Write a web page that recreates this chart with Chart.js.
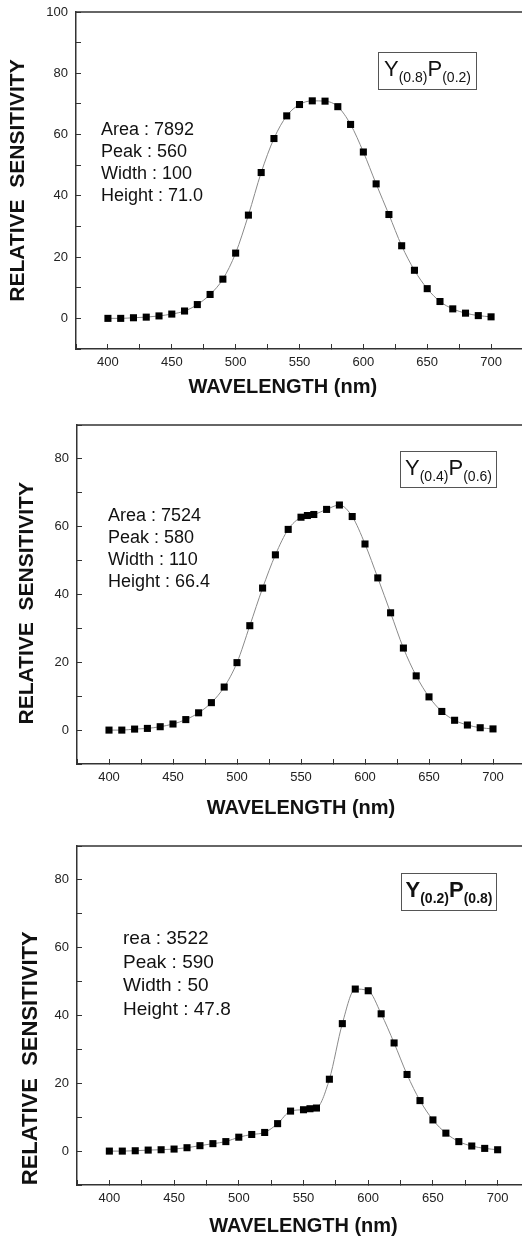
<!DOCTYPE html>
<html>
<head>
<meta charset="utf-8">
<script src="https://cdn.jsdelivr.net/npm/chart.js@4.4.1/dist/chart.umd.min.js"></script>
<style>
  html, body { margin: 0; padding: 0; background: #fff; width: 522px; height: 1236px; overflow: hidden; }
  .panel { position: absolute; left: 0; }
  .panel canvas { position: absolute; left: 0; top: 0; }
  .note { position: absolute; font-family: 'Liberation Sans', Arial, sans-serif; color: #111; font-size: 18px; line-height: 22px; white-space: nowrap; }
  .tag { position: absolute; box-sizing: border-box; border: 1px solid #555; font-family: 'Liberation Sans', Arial, sans-serif;
         color: #111; font-size: 22px; display: flex; align-items: center; justify-content: center; padding-bottom: 4px; white-space: nowrap; }
  .tag span { font-size: 14px; position: relative; top: 8px; }
  .tag.bold { font-weight: bold; }
</style>
</head>
<body>

<div class="panel" style="top:0px">
  <canvas id="chart1" width="523" height="402"></canvas>
  <div class="note" style="left:101px; top:118px">Area : 7892<br>Peak : 560<br>Width : 100<br>Height : 71.0</div>
  <div class="tag" style="left:378px; top:52px; width:99px; height:38px">Y<span>(0.8)</span>P<span>(0.2)</span></div>
</div>

<div class="panel" style="top:402px">
  <canvas id="chart2" width="525" height="421"></canvas>
  <div class="note" style="left:108px; top:102px">Area : 7524<br>Peak : 580<br>Width : 110<br>Height : 66.4</div>
  <div class="tag" style="left:400px; top:49px; width:97px; height:37px">Y<span>(0.4)</span>P<span>(0.6)</span></div>
</div>

<div class="panel" style="top:823px">
  <canvas id="chart3" width="530" height="418"></canvas>
  <div class="note" style="left:123px; top:103px; font-size:19px; line-height:23.7px">rea : 3522<br>Peak : 590<br>Width : 50<br>Height : 47.8</div>
  <div class="tag bold" style="left:401px; top:50px; width:96px; height:38px">Y<span>(0.2)</span>P<span>(0.8)</span></div>
</div>

<script>
// wavelengths (nm) and relative sensitivity
const wavelength1 = [400, 410, 420, 430, 440, 450, 460, 470, 480, 490, 500, 510, 520, 530, 540, 550,
                     560, 570, 580, 590, 600, 610, 620, 630, 640, 650, 660, 670, 680, 690, 700];
const sensitivity1 = [0, 0, 0.2, 0.4, 0.8, 1.4, 2.4, 4.5, 7.8, 12.8, 21.3, 33.7, 47.6, 58.7, 66.1, 69.8,
                      71.0, 70.9, 69.1, 63.3, 54.3, 43.9, 33.9, 23.7, 15.7, 9.7, 5.5, 3.1, 1.7, 0.9, 0.5];

const wavelength2 = [400, 410, 420, 430, 440, 450, 460, 470, 480, 490, 500, 510, 520, 530, 540, 550, 555,
                     560, 570, 580, 590, 600, 610, 620, 630, 640, 650, 660, 670, 680, 690, 700];
const sensitivity2 = [0, 0, 0.3, 0.5, 1.0, 1.8, 3.1, 5.1, 8.1, 12.7, 19.9, 30.8, 41.9, 51.7, 59.2, 62.8, 63.3,
                      63.6, 65.1, 66.4, 63.0, 54.9, 44.9, 34.6, 24.2, 16.0, 9.8, 5.5, 2.9, 1.5, 0.7, 0.35];

const wavelength3 = [400, 410, 420, 430, 440, 450, 460, 470, 480, 490, 500, 510, 520, 530, 540, 550, 555,
                     560, 570, 580, 590, 600, 610, 620, 630, 640, 650, 660, 670, 680, 690, 700];
const sensitivity3 = [0, 0, 0.1, 0.3, 0.4, 0.6, 1.0, 1.6, 2.2, 2.8, 4.1, 4.9, 5.5, 8.1, 11.8, 12.2, 12.5,
                      12.7, 21.2, 37.6, 47.8, 47.3, 40.5, 31.9, 22.6, 14.9, 9.2, 5.3, 2.8, 1.5, 0.8, 0.4];

const xTickLabels = [400, 450, 500, 550, 600, 650, 700];
const yTickLabels = [0, 20, 40, 60, 80, 100];

const FONT = "'Liberation Sans', Arial, sans-serif";

// draws the top edge of the frame
const topBorder = {
  id: 'topBorder',
  afterDraw(chart) {
    const { ctx, chartArea } = chart;
    ctx.save();
    ctx.strokeStyle = '#333';
    ctx.lineWidth = 1.5;
    ctx.beginPath();
    ctx.moveTo(chartArea.left, chartArea.top);
    ctx.lineTo(chartArea.right, chartArea.top);
    ctx.stroke();
    ctx.restore();
  }
};

function makeChart(id, wl, values, opt) {
  const ctx = document.getElementById(id);
  return new Chart(ctx, {
    type: 'line',
    data: {
      datasets: [{
        data: wl.map((x, i) => ({ x: x, y: values[i] })),
        borderColor: '#8a8a8a',
        borderWidth: 1,
        cubicInterpolationMode: 'monotone',
        pointStyle: 'rect',
        pointRadius: 5,
        pointBackgroundColor: '#000',
        pointBorderColor: '#000',
        pointBorderWidth: 0
      }]
    },
    options: {
      responsive: false,
      animation: false,
      devicePixelRatio: 1,
      layout: { autoPadding: false, padding: { top: opt.top, left: 0, right: 0, bottom: 0 } },
      plugins: { legend: { display: false }, tooltip: { enabled: false } },
      scales: {
        x: {
          type: 'linear',
          min: 375,
          max: 725,
          afterFit: s => {
            s.height = opt.xHeight;
            s.paddingLeft = 0;
            s.paddingRight = 0;
          },
          border: { color: '#333', width: 1.5 },
          grid: { drawOnChartArea: false, tickLength: -5, tickColor: '#333', tickWidth: 1 },
          ticks: {
            stepSize: 25,
            autoSkip: false,
            maxRotation: 0,
            padding: 11,
            color: '#222',
            font: { family: FONT, size: 13 },
            callback: v => xTickLabels.includes(v) ? v : ''
          },
          title: {
            display: true,
            text: 'WAVELENGTH (nm)' + ' '.repeat(opt.xTitleShift),
            color: '#111',
            font: { family: FONT, size: 20, weight: 'bold' },
            padding: { top: 0, bottom: 3 }
          }
        },
        y: {
          min: -10,
          max: opt.yMax,
          afterFit: s => {
            s.width = opt.left;
            s.paddingTop = 0;
            s.paddingBottom = 0;
          },
          border: { color: '#333', width: 1.5 },
          grid: { drawOnChartArea: false, tickLength: -5, tickColor: '#333', tickWidth: 1 },
          ticks: {
            stepSize: 10,
            autoSkip: false,
            padding: 13,
            color: '#222',
            font: { family: FONT, size: 13 },
            callback: v => yTickLabels.includes(v) ? v : ''
          },
          title: {
            display: true,
            text: 'RELATIVE  SENSITIVITY' + ' '.repeat(opt.yTitleShift),
            color: '#111',
            font: { family: FONT, size: opt.yTitleSize, weight: 'bold' },
            padding: { top: opt.titlePad, bottom: 0 }
          }
        }
      }
    },
    plugins: [topBorder]
  });
}

makeChart('chart1', wavelength1, sensitivity1,
  { top: 12, xHeight: 53, left: 76, yMax: 100, titlePad: 6, yTitleSize: 21, yTitleShift: 0, xTitleShift: 6 });
makeChart('chart2', wavelength2, sensitivity2,
  { top: 23, xHeight: 59, left: 77, yMax: 90, titlePad: 15, yTitleSize: 21, yTitleShift: 3, xTitleShift: 0 });
makeChart('chart3', wavelength3, sensitivity3,
  { top: 23, xHeight: 56, left: 77, yMax: 90, titlePad: 18, yTitleSize: 22, yTitleShift: 14, xTitleShift: 0 });
</script>
</body>
</html>
